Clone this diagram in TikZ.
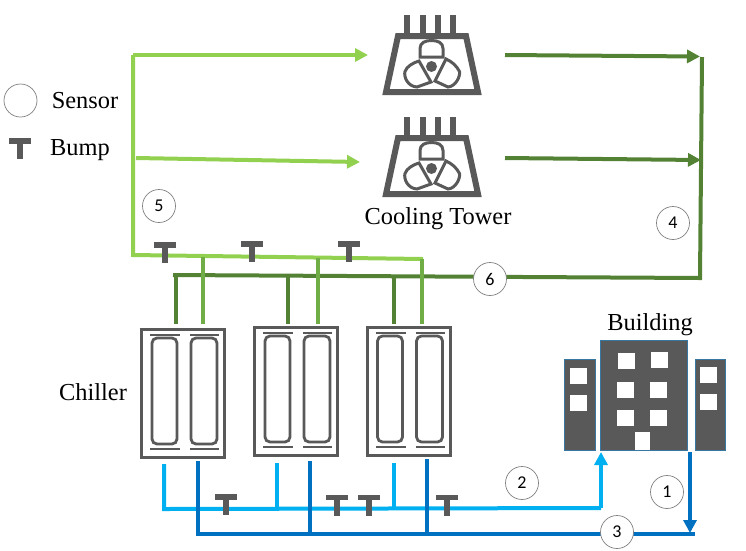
\documentclass[tikz,border=0pt]{standalone}
\usepackage{fontspec}
\setmainfont{Liberation Serif}
\newfontfamily\numfont{Carlito}
\usetikzlibrary{arrows.meta, positioning, calc}

\definecolor{ltgreen}{HTML}{92D050}
\definecolor{midgreen}{HTML}{70AD47}
\definecolor{dkgreen}{HTML}{548235}
\definecolor{ltblue}{HTML}{00B0F0}
\definecolor{dkblue}{HTML}{0070C0}
\definecolor{unitgray}{HTML}{595959}

\tikzset{
    sensor/.style={circle, draw=gray, fill=white, line width=0.7pt, minimum size=33pt, inner sep=0pt, font=\numfont\fontsize{18}{18}\selectfont},
    title/.style={font=\fontsize{24.4}{24.4}\selectfont, inner sep=0pt},
    pipe/.style={line width=4pt},
    tip/.style={-{Triangle[length=13pt, width=13pt]}},
    pics/bumpT/.style={code={
        \draw[unitgray, line width=5.5pt] (-11,0) -- (11,0);
        \draw[unitgray, line width=6.5pt] (0,0) -- (0,18);
    }},
    pics/chillerunit/.style={code={
        \draw[unitgray, line width=3pt] (1.5,1.5) rectangle (84.5,129.5);
        \draw[unitgray, line width=2.8pt, rounded corners=5pt] (12,10) rectangle (37,116);
        \draw[unitgray, line width=2.8pt, rounded corners=5pt] (51,10) rectangle (77,116);
        \foreach \xa/\xb in {10/40, 50/79} {
            \draw[unitgray, line width=2.6pt] (\xa,7) -- (\xb,7);
            \draw[unitgray, line width=2.6pt] (\xa,121) -- (\xb,121);
        }
    }},
    pics/towerunit/.style={code={
        \foreach \xa in {-24.5, -8.5, 6.5, 21.5}
            \draw[unitgray, line width=6pt] (\xa,-51.5) -- (\xa,-31);
        \draw[unitgray, line width=6pt] (-33.5,-30.5) -- (34.5,-30.5) -- (46.5,25.5) -- (-45.5,25.5) -- cycle;
        \fill[unitgray] (0,0) circle (5.5);
        \draw[unitgray, line width=3pt] (-11.5,-9.5) -- (-11.5,-18) .. controls (-11.5,-24) and (-6,-26) .. (0,-26) .. controls (6,-26) and (11.5,-24) .. (11.5,-18) -- (11.5,-9.5) -- cycle;
        \draw[unitgray, line width=3pt] (-12.5,-5.5) -- (-0.5,15.5) -- (-14.5,20.5) .. controls (-24,20) and (-28,10) .. (-26.5,5) .. controls (-25,0) and (-18,-4) .. (-12.5,-5.5) -- cycle;
        \draw[unitgray, line width=3pt] (14.5,-7.5) -- (3.5,14.5) -- (16.5,20.5) .. controls (24,20) and (29,10) .. (28,5) .. controls (25,-1) and (20,-5) .. (14.5,-7.5) -- cycle;
    }},
    house/.style={fill=unitgray, draw=dkblue!55!gray, line width=0.6pt},
    pane/.style={fill=white, draw=none}
}

\begin{document}
\begin{tikzpicture}[x=1pt, y=-1pt]
        \useasboundingbox (0,0) rectangle (746,550);

        % supply and return corners
        \coordinate (gs) at (133,55);
        \coordinate (ga) at (368,55);
        \coordinate (gb) at (136,158);
        \coordinate (gc) at (360,162);
        \coordinate (gd) at (133,255);
        \coordinate (ge) at (423,259);
        \coordinate (g1) at (203,257);
        \coordinate (g2) at (318,258);
        \coordinate (g3) at (422,259);
        \coordinate (c1g) at (203,324);
        \coordinate (c2g) at (318,324);
        \coordinate (c3g) at (422,324);

        \coordinate (da) at (505,55);
        \coordinate (db) at (700,56.5);
        \coordinate (dc) at (505,158);
        \coordinate (dd) at (701,160);
        \coordinate (de) at (702,57);
        \coordinate (df) at (700,278);
        \coordinate (dg) at (173,275);
        \coordinate (d1) at (175.5,275);
        \coordinate (d2) at (288,276);
        \coordinate (d3) at (394,276);
        \coordinate (c1d) at (175.5,324);
        \coordinate (c2d) at (288,324);
        \coordinate (c3d) at (394,324);

        \coordinate (ba) at (164,464);
        \coordinate (bb) at (164,509);
        \coordinate (bc) at (601,508);
        \coordinate (bd) at (601,452);
        \coordinate (b2) at (277,463);
        \coordinate (b2e) at (277,508);
        \coordinate (b3) at (394,463);
        \coordinate (b3e) at (394,508);

        \coordinate (ua) at (198,461);
        \coordinate (ub) at (198,534);
        \coordinate (uc) at (695,534);
        \coordinate (u2) at (310,461);
        \coordinate (u2e) at (310,534);
        \coordinate (u3) at (427,459);
        \coordinate (u3e) at (427,534);
        \coordinate (ud) at (690,452);
        \coordinate (ue) at (690,533);

        % green pipes
        \draw[pipe, dkgreen] (dg) -- (df) -- (de);
        \draw[pipe, dkgreen] (d1) -- (c1d);
        \draw[pipe, dkgreen] (d2) -- (c2d);
        \draw[pipe, dkgreen] (d3) -- (c3d);
        \draw[pipe, dkgreen, tip] (da) -- (db);
        \draw[pipe, dkgreen, tip] (dc) -- (dd);
        \draw[pipe, ltgreen] (gs) -- (gd) -- (ge);
        \draw[pipe, ltgreen, tip] (gs) -- (ga);
        \draw[pipe, ltgreen, tip] (gb) -- (gc);
        \draw[pipe, midgreen] (g1) -- (c1g);
        \draw[pipe, midgreen] (g2) -- (c2g);
        \draw[pipe, midgreen] (g3) -- (c3g);

        % blue pipes
        \draw[pipe, ltblue] (ba) -- (bb) -- (bc);
        \draw[pipe, ltblue, tip] (bc) -- (bd);
        \draw[pipe, ltblue] (b2) -- (b2e);
        \draw[pipe, ltblue] (b3) -- (b3e);
        \draw[pipe, dkblue] (ua) -- (ub) -- (uc);
        \draw[pipe, dkblue] (u2) -- (u2e);
        \draw[pipe, dkblue] (u3) -- (u3e);
        \draw[pipe, dkblue, tip] (ud) -- (ue);

        % units
        \pic at (431.5,66.5) {towerunit};
        \pic at (431.5,168.5) {towerunit};
        \pic at (140,328) {chillerunit};
        \pic at (253,326) {chillerunit};
        \pic at (365.5,326) {chillerunit};

        \foreach \bx/\by in {165/245, 252/244, 349/244, 226/497, 337/497.5, 369/497.5, 447/497.5, 20/141}
            \pic at (\bx,\by) {bumpT};

        % building
        \draw[house] (600.5,340) rectangle (687,450);
        \draw[house] (564,359) rectangle (595,450);
        \draw[house] (695,359) rectangle (725.5,450);
        \foreach \wx/\wy in {618/353, 651/352, 617/382, 650/382, 617/410, 650/410, 570/368, 570/395, 700/367, 700/394}
            \fill[pane] (\wx,\wy) rectangle ++(17,16);
        \fill[pane] (635,432) rectangle (650,450);

        % sensors
        \node[sensor] (legend) at (20.5,100.5) {};
        \node[sensor] (s1) at (667,492) {1};
        \node[sensor] (s2) at (522,483) {2};
        \node[sensor] (s3) at (617,532) {3};
        \node[sensor] (s4) at (673,223) {4};
        \node[sensor] (s5) at (159,206) {5};
        \node[sensor] (s6) at (490,279) {6};

        % labels
        \node[title] (sensorlabel) at (85,101) {Sensor};
        \node[title] (bumplabel) at (80,150) {Bump};
        \node[title] (towerlabel) at (438,219) {Cooling Tower};
        \node[title] (chillerlabel) at (93,392) {Chiller};
        \node[title] (buildinglabel) at (650,325) {Building};
    \end{tikzpicture}
\end{document}
